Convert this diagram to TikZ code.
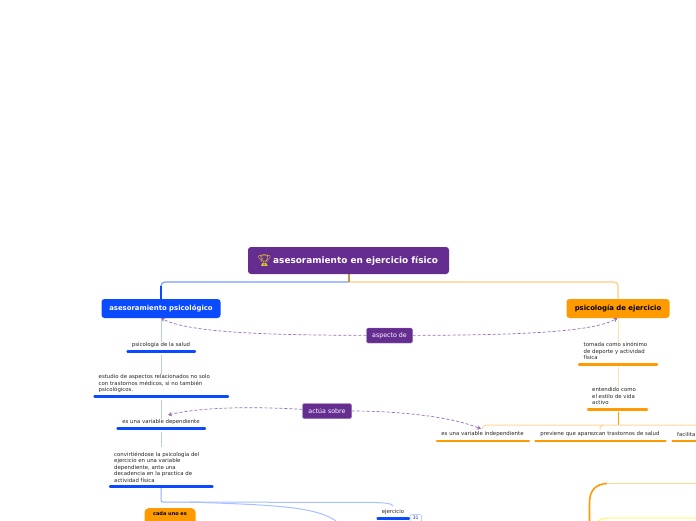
\documentclass[tikz,border=0pt]{standalone}
\usepackage{fontspec}
\setmainfont{DejaVu Sans}
\newfontfamily\emojifont{Noto Emoji}
\usetikzlibrary{arrows.meta,positioning}
\definecolor{mainpurple}{HTML}{662D91}
\definecolor{psiblue}{HTML}{0A4BFF}
\definecolor{ejeorange}{HTML}{FF9A00}
\definecolor{stemtan}{HTML}{C8924F}

\begin{document}
\begin{tikzpicture}[
			x=1pt,y=-1pt,
			topic/.style={
				rectangle,
				rounded corners=3pt,
				inner sep=0pt,
				align=center,
				font=\fontsize{6.9}{8}\selectfont\bfseries
			},
			relation/.style={
				rectangle,
				rounded corners=1.5pt,
				fill=mainpurple,
				draw=mainpurple!70,
				line width=0.4pt,
				inner sep=0pt,
				text=white,
				font=\fontsize{6.3}{7}\selectfont
			},
			leaf/.style={
				inner sep=0pt,
				align=left,
				text=black!85,
				font=\fontsize{5.4}{6.5}\selectfont
			},
			bluebar/.style={line width=2.4pt,draw=psiblue,line cap=round},
			orangebar/.style={line width=2.4pt,draw=ejeorange,line cap=round},
			bluelink/.style={line width=1pt,draw=psiblue!45},
			orangelink/.style={line width=1pt,draw=ejeorange!40},
			relarrow/.style={
				dash pattern=on 3pt off 2pt,
				line width=0.7pt,
				draw=mainpurple!70,
				-{Stealth[length=4pt,width=4.5pt,fill=mainpurple]}
			}
			]
			\useasboundingbox (0,0) rectangle (696,520);
			\clip (0,0) rectangle (696,520);
			\fill[white] (0,0) rectangle (696,520);

			% enlaces principales
			\coordinate (rootfoot) at (349,282);
			\coordinate (psitop) at (161,299);
			\coordinate (ejetop) at (618,299);
			\draw[line width=1.2pt,draw=psiblue!55,rounded corners=4pt] (rootfoot) -- (161,282) -- (161,290);
			\draw[line width=1.2pt,draw=psiblue] (161,286) -- (psitop);
			\draw[line width=1.2pt,draw=ejeorange!50,rounded corners=4pt] (rootfoot) -- (618,282) -- (ejetop);
			\draw[line width=1.2pt,draw=stemtan] (349,274) -- (rootfoot);

			% tema central
			\node[topic,fill=mainpurple,minimum width=201pt,minimum height=27pt,text=white] (root) at (348.5,260.5) {};
			\node[text=white,inner sep=0pt,font=\fontsize{8.9}{10}\selectfont\bfseries,anchor=west] (rootlabel) at (273,260.5) {asesoramiento en ejercicio físico};
			\node[inner sep=0pt,text=yellow!75!brown,font=\emojifont\fontsize{11.5}{12}\selectfont] (trophy) at (264.5,260.5) {🏆};

			% ramas
			\node[topic,fill=psiblue,minimum width=119pt,minimum height=19pt,text=white] (psi) at (161,308.5) {asesoramiento psicológico};
			\node[topic,fill=ejeorange,minimum width=103pt,minimum height=19pt,text=black] (eje) at (618,308.5) {psicología de ejercicio};

			% hojas izquierda
			\coordinate (bsalud) at (161,351.5);
			\coordinate (bestudio) at (161,396.5);
			\coordinate (bvariable) at (161,428.5);
			\coordinate (bconv) at (161,486.5);
			\node[leaf,anchor=south] (salud) at (161,348) {psicología de la salud};
			\node[leaf,anchor=south west] (estudio) at (98.5,393) {estudio de aspectos relacionados no solo\\con trastornos médicos, si no también\\psicológicos.};
			\node[leaf,anchor=south] (variable) at (161,425) {es una variable dependiente};
			\node[leaf,anchor=south west] (conv) at (114,482.5) {convirtiéndose la psicología del\\ejercicio en una variable\\dependiente, ante una\\decadencia en la practica de\\actividad física};
			\draw[bluelink,draw=psiblue!30] (psi) -- (salud);
			\draw[bluelink,draw=psiblue!30] (bsalud) ++(0,3) -- (estudio.north -| bsalud);
			\draw[bluelink,draw=psiblue!30] (bestudio) ++(0,3) -- (variable.north -| bestudio);
			\draw[bluelink,draw=psiblue!30] (bvariable) ++(0,3) -- (161,447);
			\draw[bluebar] (127.5,351.5) -- (195,351.5);
			\draw[bluebar] (94.5,396.5) -- (228,396.5);
			\draw[bluebar] (117.5,428.5) -- (205,428.5);
			\draw[bluebar] (110,486.5) -- (212.5,486.5);

			% rama inferior izquierda
			\node[topic,fill=ejeorange,rounded corners=4pt,minimum width=51pt,minimum height=20pt,text=black,anchor=north,font=\fontsize{5}{6}\selectfont\bfseries,text height=3pt,text depth=8pt] (cada) at (170,508) {cada uno es};
			\node[leaf,anchor=south] (ejercicio) at (393,515) {ejercicio};
			\draw[bluebar] (377.5,518.5) -- (409,518.5);
			\draw[draw=psiblue!40,line width=0.5pt,rounded corners=2pt] (410,523) rectangle (421.5,514.5);
			\node[inner sep=0pt,font=\fontsize{4.6}{5}\selectfont,text=psiblue!70!black] (badge) at (415.7,517.8) {31};
			\draw[bluelink,rounded corners=2pt] (161,488) -- (161,502) -- (200,502);
			\draw[bluelink,draw=psiblue!35] (199,502) .. controls (270,502.5) and (340,502) .. (375,502.5) .. controls (385,503) and (392,503) .. (393,506);
			\draw[bluelink,draw=psiblue!35] (190,502) .. controls (270,505) and (315,506) .. (336,521);

			% hojas derecha
			\node[leaf,anchor=south west] (tomada) at (583.5,360) {tomada como sinónimo\\de deporte y actividad\\física};
			\node[leaf,anchor=south west] (entendido) at (592,405) {entendido como\\el estilo de vida\\activo};
			\draw[orangelink,draw=ejeorange!30] (eje) -- (tomada.north -| eje);
			\draw[orangelink,draw=ejeorange!30] (618,367) -- (entendido.north -| eje);
			\draw[orangebar] (579,364.5) -- (657,364.5);
			\draw[orangebar] (588,409.5) -- (647,409.5);

			\node[leaf,anchor=south] (indep) at (482.5,437) {es una variable independiente};
			\node[leaf,anchor=south] (previene) at (600,437) {previene que aparezcan trastornos de salud};
			\node[leaf,anchor=south west] (facilita) at (677,437) {facilita};
			\draw[orangebar] (437,441) -- (529,441);
			\draw[orangebar] (535.5,441) -- (665.5,441);
			\draw[orangebar] (672.5,441) -- (700,441);
			\draw[orangelink,draw=ejeorange] (618,412) -- (618,425);
			\draw[orangelink,rounded corners=4pt] (482,429) -- (482,425) -- (700,425);
			\draw[orangelink] (600,430) -- (600,427) -- (603,425);

			% ramas esquina
			\draw[line width=1.6pt,draw=ejeorange] (589.5,521) -- (589.5,503) .. controls (589.5,490) and (596,484) .. (607,483.5);
			\draw[line width=0.7pt,draw=ejeorange!40] (607,483.5) -- (700,483.5);
			\draw[line width=0.8pt,draw=yellow!70] (597,522) .. controls (600,519) and (604,518) .. (610,518) -- (700,518);

			% relaciones
			\node[relation,minimum width=46pt,minimum height=15pt] (aspecto) at (389.5,335.5) {aspecto de};
			\node[relation,minimum width=49pt,minimum height=15pt] (actua) at (327,411) {actúa sobre};
			\draw[relarrow] (aspecto) .. controls (285,335) and (190,334) .. (161,318);
			\draw[relarrow] (aspecto) .. controls (495,335) and (590,334) .. (617.5,318);
			\draw[relarrow] (actua) .. controls (265,407) and (205,406) .. (168,415);
			\draw[relarrow] (actua) .. controls (395,411) and (450,416) .. (481,429);
		\end{tikzpicture}
\end{document}
